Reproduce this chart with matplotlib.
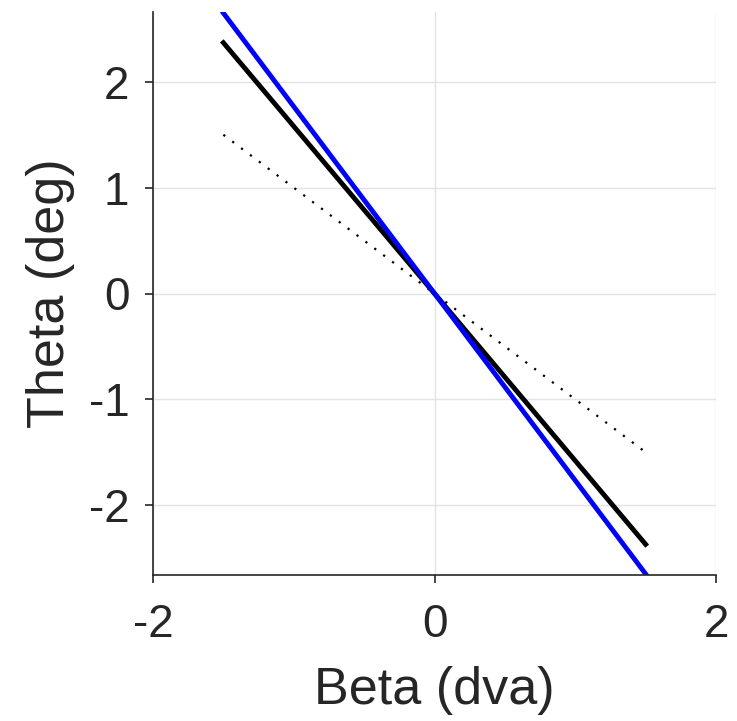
import matplotlib.pyplot as plt

plt.rcParams['font.family'] = ['Liberation Sans', 'DejaVu Sans']
plt.rcParams['axes.unicode_minus'] = False

beta = [-1.5, 1.5]
theta_blue = [2.65, -2.65]
theta_black = [2.37, -2.37]
theta_dotted = [1.5, -1.5]

fig = plt.figure(figsize=(7.37, 7.21), dpi=100)
ax = fig.add_axes([153 / 737, 146 / 721, 563 / 737, 563 / 721])

ax.plot(beta, theta_dotted, color='black', linestyle=(0, (1, 4)), linewidth=1.6)
ax.plot(beta, theta_black, color='black', linewidth=3.5)
ax.plot(beta, theta_blue, color='#0000ff', linewidth=3.5)

ax.set_xlim(-2, 2)
ax.set_ylim(-2.66, 2.66)
ax.set_xticks([-2, 0, 2])
ax.set_yticks([-2, -1, 0, 1, 2])
ax.grid(True, color='#e3e3e3', linewidth=1)
ax.set_axisbelow(True)

for s in ['top', 'right']:
    ax.spines[s].set_visible(False)
for s in ['left', 'bottom']:
    ax.spines[s].set_color('#262626')
    ax.spines[s].set_linewidth(1.2)

ax.tick_params(direction='out', length=6, width=1.2, color='#262626',
               labelsize=33, labelcolor='#262626')
ax.tick_params(axis='x', pad=14)
ax.tick_params(axis='y', pad=11)
ax.set_xlabel('Beta (dva)', fontsize=37.5, color='#262626', labelpad=14)
ax.set_ylabel('Theta (deg)', fontsize=37.5, color='#262626', labelpad=10)

fig.savefig('out.png', dpi=100)
